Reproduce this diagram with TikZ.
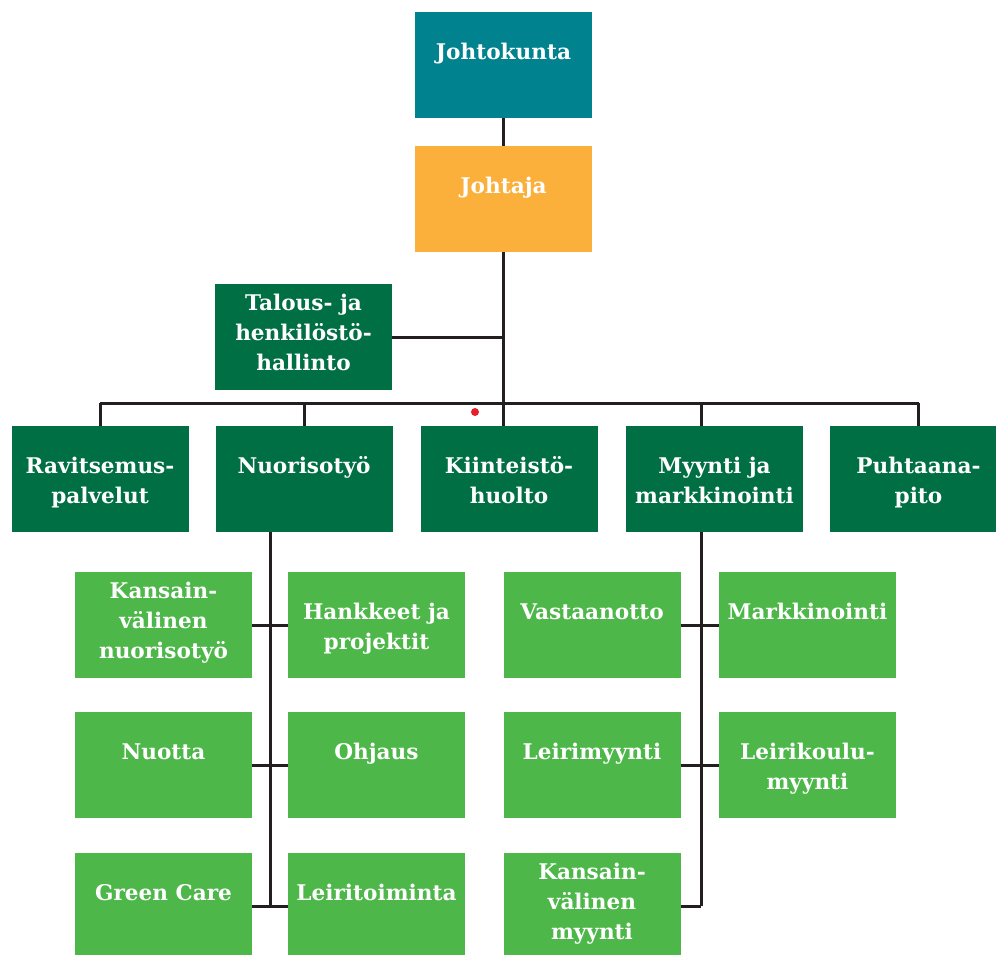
\documentclass[tikz,border=0pt]{standalone}
\usepackage{fontspec}
\setmainfont{DejaVu Serif}
\usetikzlibrary{positioning}
\newcommand{\px}{0.75pt}
\newcommand{\boxfont}{\fontsize{16.2}{22.5}\selectfont\bfseries}
\definecolor{tealc}{RGB}{0,131,143}
\definecolor{orangec}{RGB}{251,176,59}
\definecolor{darkc}{RGB}{0,111,68}
\definecolor{lightc}{RGB}{77,183,73}
\definecolor{linec}{RGB}{35,31,32}
\definecolor{dotc}{RGB}{230,30,40}
\tikzset{
  orgbox/.style={minimum width=177*\px,minimum height=106*\px,inner sep=0pt,outer sep=0pt},
  tealbox/.style={orgbox,fill=tealc},
  orangebox/.style={orgbox,fill=orangec},
  darkbox/.style={orgbox,fill=darkc},
  lightbox/.style={orgbox,fill=lightc},
  lbl/.style={anchor=north,yshift=-31*\px,align=center,text=white,font=\boxfont,inner sep=0pt},
  lbltop/.style={anchor=north,yshift=-10*\px,align=center,text=white,font=\boxfont,inner sep=0pt},
  link/.style={line width=3*\px,draw=linec}
}

\begin{document}
\begin{tikzpicture}[x=\px,y=-\px]
        \useasboundingbox (0,0) rectangle (996,954);
        % top of the chart
        \node[tealbox,label={[lbl]north:Johtokunta}] (jk) at (503.5,65) {};
        \node[orangebox,label={[lbl]north:Johtaja}] (jt) at (503.5,198.5) {};
        \draw[link] (jk) -- (jt);
        \node[darkbox,label={[lbltop]north:Talous- ja\\henkilöstö-\\hallinto}] (tal) at (303.5,337) {};
        % units
        \node[darkbox,label={[lbl]north:Ravitsemus-\\palvelut}] (rav) at (100,478.5) {};
        \node[darkbox,label={[lbl]north:Nuorisotyö}] (nuo) at (304,478.5) {};
        \node[darkbox,label={[lbl]north:Kiinteistö-\\huolto}] (kii) at (509,478.5) {};
        \node[darkbox,label={[lbl]north:Myynti ja\\markkinointi}] (myy) at (714.5,478.5) {};
        \node[darkbox,label={[lbl]north:Puhtaana-\\pito}] (puh) at (918.5,478.5) {};
        \coordinate (bus) at (0,403);
        \draw[link] (jt.south) -- (jt.south |- kii.north);
        \draw[link] (tal.east) -- (tal.east -| jt.south);
        \draw[link] (rav.north |- bus) -- (puh.north |- bus);
        \foreach \n in {rav,nuo,puh}
          \draw[link] (\n.north) -- (\n.north |- bus);
        % nuorisotyo
        \node[lightbox,label={[lbltop]north:Kansain-\\välinen\\nuorisotyö}] (kvn) at (163.5,625) {};
        \node[lightbox,label={[lbl]north:Hankkeet ja\\projektit}] (han) at (376.5,625) {};
        \node[lightbox,label={[lbl]north:Nuotta}] (nuotta) at (163.5,765) {};
        \node[lightbox,label={[lbl]north:Ohjaus}] (ohj) at (376.5,765) {};
        \node[lightbox,label={[lbl]north:Green Care}] (gc) at (163.5,906) {};
        \node[lightbox,label={[lbl]north:Leiritoiminta}] (lei) at (376.5,906) {};
        \coordinate (nuoT) at (270,907);
        \draw[link] (nuoT |- nuo.south) -- (nuoT);
        \draw[link] (kvn.east) -- (han.west);
        \draw[link] (nuotta.east) -- (ohj.west);
        \draw[link] (gc.east) -- (lei.west);
        % myynti ja markkinointi
        \node[lightbox,label={[lbl]north:Vastaanotto}] (vas) at (592,625) {};
        \node[lightbox,label={[lbl]north:Markkinointi}] (mar) at (807.5,625) {};
        \node[lightbox,label={[lbl]north:Leirimyynti}] (lmy) at (592,765) {};
        \node[lightbox,label={[lbl]north:Leirikoulu-\\myynti}] (lko) at (807.5,765) {};
        \node[lightbox,label={[lbltop]north:Kansain-\\välinen\\myynti}] (kvm) at (592,906) {};
        \coordinate (myyT) at (701,906);
        \draw[link] (myyT |- myy.north) -- (myyT |- bus);
        \draw[link] (myyT |- myy.south) -- (myyT);
        \draw[link] (vas.east) -- (mar.west);
        \draw[link] (lmy.east) -- (lko.west);
        \draw[link] (kvm.east) -- (myyT);
        \fill[dotc] (475,412) circle (4*\px);
      \end{tikzpicture}
\end{document}
